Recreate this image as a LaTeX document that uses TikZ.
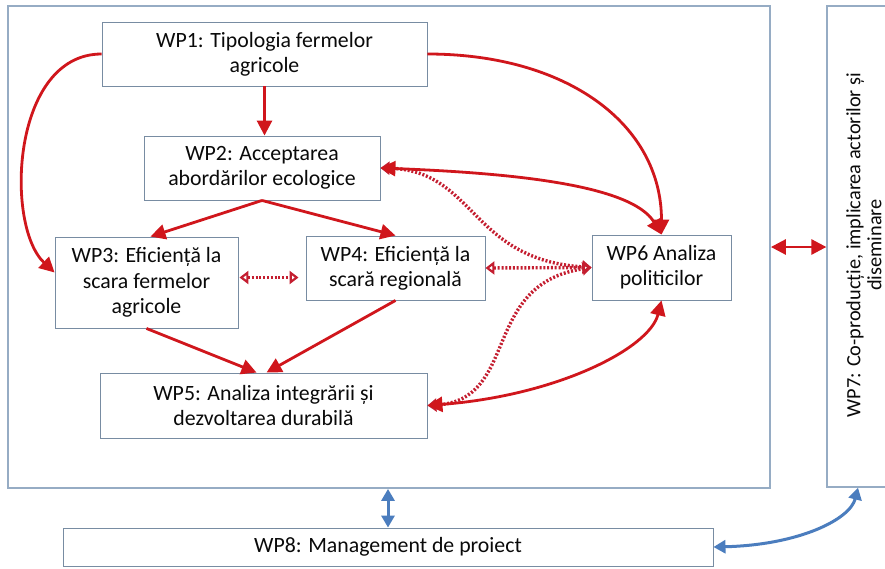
\documentclass[tikz,border=0pt]{standalone}
\usepackage{fontspec}
\setmainfont{Carlito}
\newfontfamily\cf{Carlito}
\usetikzlibrary{arrows.meta}
\definecolor{rd}{RGB}{208,22,28}
\definecolor{rdd}{RGB}{196,30,48}
\definecolor{bl}{RGB}{75,125,190}
\definecolor{boxc}{RGB}{120,140,162}
\definecolor{outc}{RGB}{150,172,196}
\definecolor{txt}{RGB}{10,10,10}
\tikzset{
  wp/.style={draw=boxc, line width=0.9pt, fill=white, align=center, inner sep=0pt,
    text=txt, font=\cf\fontsize{21.8}{25.3}\selectfont},
  ra/.style={draw=rd, line width=2.8pt, -{Triangle[length=15pt,width=15pt]}},
  rab/.style={draw=rd, line width=2.8pt, {Triangle[length=15pt,width=15pt]}-{Triangle[length=15pt,width=15pt]}},
  rdot/.style={draw=rdd, line width=3.4pt, dash pattern=on 2pt off 1.8pt,
    {Triangle[length=9pt,width=13pt,open,line width=2.2pt,sep=0pt]}-{Triangle[length=9pt,width=13pt,open,line width=2.2pt]}},
  bab/.style={draw=bl, line width=3pt, {Triangle[length=12pt,width=13pt]}-{Triangle[length=12pt,width=13pt]}}
}
\begin{document}
\begin{tikzpicture}[x=1pt,y=-1pt]
\useasboundingbox (0,0) rectangle (885,568);
\clip (0,0) rectangle (885,568);
\fill[white] (0,0) rectangle (885,568);

\node[draw=outc, line width=1.8pt, minimum width=762pt, minimum height=482pt, inner sep=0pt] (outer) at (389,247) {};
\node[wp, draw=outc, line width=1.3pt, minimum width=78pt, minimum height=481pt] (wp7box) at (866,246.5) {};
\node[rotate=90, align=center, inner sep=0pt, text=txt, font=\cf\fontsize{20.3}{21}\selectfont] (wp7) at (864,245) {WP7: Co-producție, implicarea actorilor și\\diseminare};

\node[wp, minimum width=325pt, minimum height=64pt] (wp1) at (264.5,54) {WP1: Tipologia fermelor\\agricole};
\node[wp, minimum width=236pt, minimum height=64pt] (wp2) at (262,168) {WP2: Acceptarea\\abordărilor ecologice};
\node[wp, minimum width=183pt, minimum height=91pt] (wp3) at (146.5,282.5) {WP3: Eficiență la\\scara fermelor\\agricole};
\node[wp, minimum width=179pt, minimum height=64pt] (wp4) at (395.5,268) {WP4: Eficiență la\\scară regională};
\node[wp, minimum width=139pt, minimum height=65pt] (wp6) at (661.5,267.5) {WP6 Analiza\\politicilor};
\node[wp, minimum width=327pt, minimum height=65pt] (wp5) at (263.5,405.5) {WP5: Analiza integrării și\\dezvoltarea durabilă};
\node[wp, minimum width=650pt, minimum height=38pt] (wp8) at (388,547) {WP8: Management de proiect};

% dotted connections
\draw[rdot] (wp2.east) .. controls +(95,2) and +(-122,-8) .. (wp6.west);
\draw[rdot] (wp5.east) .. controls +(93,-5) and +(-112,17) .. (wp6.west);
\draw[rdot] (wp4.east) -- (wp6.west);
\coordinate (d34) at ([yshift=5pt,xshift=1pt]wp3.east);
\draw[rdot, shorten >=7pt] (d34) -- (d34 -| wp4.west);

% solid red
\draw[ra] (wp1.south) -- (wp1.south |- wp2.north);
\draw[ra] (wp1.west) .. controls +(-90,0) and +(-50,-47) .. ([yshift=10pt]wp3.west);
\draw[ra] (wp1.east) .. controls +(140,0) and +(0,-110) .. (wp6.north);
\draw[rab] (wp2.east) .. controls +(130,5) and +(-30,-50) .. (wp6.north);
\draw[ra] (wp2.south) -- ([xshift=4pt]wp3.north);
\draw[ra] (wp2.south) -- (wp4.north);
\draw[ra] (wp3.south) -- ([xshift=-7pt]wp5.north);
\draw[ra] (wp4.south) -- ([xshift=3pt]wp5.north);
\draw[rab] (wp5.east) .. controls +(130,-10) and +(-12,48) .. (wp6.south);
\draw[rab] (outer.east) -- (outer.east -| wp7box.west);

% blue
\draw[bab] (wp8.north |- outer.south) -- (wp8.north);
\draw[bab] (wp8.east) .. controls +(85,-2) and +(-8,32) .. ([xshift=-8pt]wp7box.south);
\end{tikzpicture}
\end{document}
